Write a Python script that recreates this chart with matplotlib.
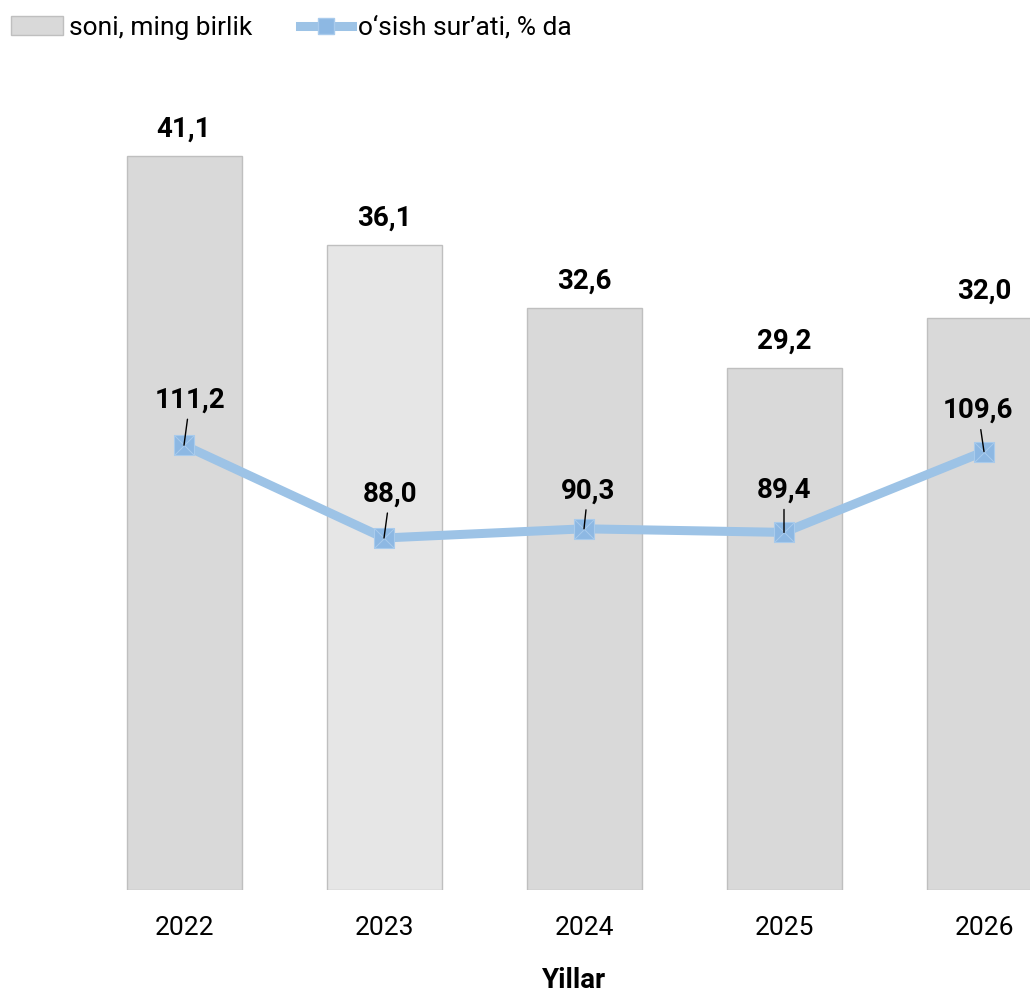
import matplotlib
matplotlib.use("Agg")
import matplotlib.pyplot as plt
from matplotlib.lines import Line2D
from matplotlib.patches import Patch

years = ["2022", "2023", "2024", "2025", "2026"]
counts = [41.1, 36.1, 32.6, 29.2, 32.0]
growth = [111.2, 88.0, 90.3, 89.4, 109.6]
count_labels = ["41,1", "36,1", "32,6", "29,2", "32,0"]
growth_labels = ["111,2", "88,0", "90,3", "89,4", "109,6"]
bar_colors = ["#d9d9d9", "#e6e6e6", "#d9d9d9", "#d9d9d9", "#d9d9d9"]

plt.rcParams['font.family'] = ['Roboto', 'DejaVu Sans']

W, H = 1030, 996
fig = plt.figure(figsize=(W / 100, H / 100), dpi=100)
ax_bottom, ax_top = 890, 80
ax = fig.add_axes([0, (H - ax_bottom) / H, 1, (ax_bottom - ax_top) / H])
x = list(range(len(years)))
ax.bar(x, counts, width=0.575, color=bar_colors, edgecolor="#bfbfbf", linewidth=1.0, zorder=1)
ax.set_xlim(-0.92, 4.23)
ax.set_ylim(0, (ax_bottom - ax_top) / 17.86)
for s in ax.spines.values():
    s.set_visible(False)
ax.set_yticks([])
ax.set_xticks(x)
ax.set_xticklabels(years, fontsize=19)
ax.tick_params(axis='x', length=0, pad=19)
fig.text(574 / W, 1 - 980 / H, "Yillar", fontsize=20, fontweight='bold', ha='center', va='center')

for xi, v, lab in zip(x, counts, count_labels):
    ax.annotate(lab, (xi, v), xytext=(0, 27), textcoords='offset pixels',
                ha='center', va='center', fontsize=20, fontweight='bold')

ax2 = ax.twinx()
ax2.set_ylim(0, (ax_bottom - ax_top) / 4.0)
ax2.set_yticks([])
for s in ax2.spines.values():
    s.set_visible(False)
line_color = "#9dc3e6"
ax2.plot(x, growth, color=line_color, linewidth=6.5, zorder=3, solid_capstyle='round')
ax2.plot(x, growth, linestyle='none', marker='s', markersize=15, markerfacecolor="#8db8e3",
         markeredgecolor="#a9cbec", markeredgewidth=0.8, zorder=4)
ax2.plot(x, growth, linestyle='none', marker='x', markersize=14, markeredgecolor="#a9cbec",
         markeredgewidth=0.7, zorder=5)

offsets = [(6, 45), (6, 44), (4, 38), (0, 42), (-6, 41)]
for xi, v, lab, off in zip(x, growth, growth_labels, offsets):
    ax2.annotate(lab, (xi, v), xytext=off, textcoords='offset pixels',
                 ha='center', va='center', fontsize=20, fontweight='bold', zorder=6,
                 arrowprops=dict(arrowstyle='-', color='black', lw=1.0, shrinkA=2, shrinkB=0))

handles = [Patch(facecolor="#d9d9d9", edgecolor="#bfbfbf", label="soni, ming birlik"),
           Line2D([0], [0], color=line_color, linewidth=6.5, marker='s', markersize=12,
                  markerfacecolor="#8db8e3", markeredgecolor="#a9cbec", label="o‘sish sur’ati, % da")]
fig.legend(handles=handles, loc='upper left', bbox_to_anchor=(-0.012, 1.008), ncol=2, frameon=False,
           fontsize=19, handlelength=1.95, handletextpad=0.25, columnspacing=1.8)

fig.savefig("out.png", dpi=100)
